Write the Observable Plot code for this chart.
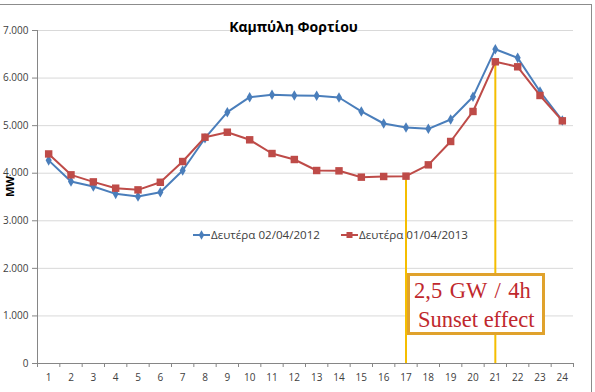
<!DOCTYPE html>
<html>
<head>
<meta charset="utf-8">
<script src="https://cdn.jsdelivr.net/npm/d3@7"></script>
<script src="https://cdn.jsdelivr.net/npm/@observablehq/plot@0.6"></script>
<style>
  html, body { margin: 0; padding: 0; background: white; }
  #wrap { position: relative; width: 595px; height: 392px; overflow: hidden; font-family: "Open Sans", sans-serif; }
  #frame { position: absolute; left: -10px; top: 4px; width: 602px; height: 400px; border: 1.5px solid #8c8c8c; box-sizing: border-box; pointer-events: none; }
  #legend { position: absolute; top: 227px; left: 193px; font-size: 11.6px; color: #404040; white-space: nowrap; display: flex; align-items: center; }
  #legend .item { display: flex; align-items: center; }
  #legend svg { display: block; }
  #note { position: absolute; left: 407px; top: 273px; width: 138px; height: 62px; box-sizing: border-box; border: 3px solid #E0A22C; background: white; font-family: "Liberation Serif", serif; font-size: 22.5px; color: #C0282D; line-height: 29px; }
</style>
</head>
<body>
<div id="wrap"></div>
<script>
const hours = [1,2,3,4,5,6,7,8,9,10,11,12,13,14,15,16,17,18,19,20,21,22,23,24];
const load2012 = [4270,3826,3720,3566,3510,3600,4057,4736,5283,5598,5648,5634,5627,5592,5298,5045,4961,4933,5129,5606,6607,6425,5718,5108];
const load2013 = [4405,3966,3818,3685,3650,3810,4246,4757,4862,4702,4414,4288,4057,4050,3917,3931,3938,4176,4667,5298,6342,6237,5634,5101];
const seriesNames = ["Δευτέρα 02/04/2012", "Δευτέρα 01/04/2013"];
const seriesColors = ["#4A7EBB", "#BE4B48"];
const yTicks = [0,1000,2000,3000,4000,5000,6000,7000];
const markedHours = [17, 21];
const titleText = "Καμπύλη Φορτίου";
const yLabel = "MW";
const noteLines = ["2,5 GW / 4h", "Sunset effect"];

const rows2012 = hours.map((h, i) => ({hour: h, value: load2012[i]}));
const rows2013 = hours.map((h, i) => ({hour: h, value: load2013[i]}));
const boundaries = hours.map(h => h - 0.5).concat([hours[hours.length - 1] + 0.5]);
const xDomain = [boundaries[0], boundaries[boundaries.length - 1]];
const fmt = d => d === 0 ? "0" : d3.format(",")(d).replace(",", ".");

const chart = Plot.plot({
  width: 595,
  height: 392,
  marginLeft: 37,
  marginRight: 22,
  marginTop: 30,
  marginBottom: 29,
  x: {type: "linear", domain: xDomain},
  y: {domain: [yTicks[0], yTicks[yTicks.length - 1]]},
  style: {fontFamily: "Open Sans", fontSize: "10px", color: "#404040", background: "white", overflow: "visible"},
  marks: [
    Plot.gridY(yTicks, {stroke: "#d9d9d9", strokeOpacity: 1}),
    Plot.axisY({ticks: yTicks, tickFormat: fmt, tickSize: 5, tickPadding: 4, label: null, stroke: "#868686", fill: "#404040"}),
    Plot.ruleX([xDomain[0]], {stroke: "#868686"}),
    Plot.axisX({ticks: boundaries, tickSize: 4, tickFormat: () => "", label: null, stroke: "#868686"}),
    Plot.axisX({ticks: hours, tickSize: 0, tickPadding: 10, label: null, fill: "#404040"}),
    Plot.ruleY([yTicks[0]], {stroke: "#868686"}),
    Plot.ruleX(markedHours, {x: d => d, y1: 0, y2: d => load2013[hours.indexOf(d)], stroke: "#F5BE00", strokeWidth: 2}),
    Plot.line(rows2012, {x: "hour", y: "value", stroke: seriesColors[0], strokeWidth: 2}),
    Plot.dot(rows2012, {x: "hour", y: "value", symbol: "diamond", r: 3.2, fill: seriesColors[0], stroke: "none"}),
    Plot.line(rows2013, {x: "hour", y: "value", stroke: seriesColors[1], strokeWidth: 2}),
    Plot.dot(rows2013, {x: "hour", y: "value", symbol: "square", r: 4.2, fill: seriesColors[1], stroke: "none"}),
    Plot.text([titleText], {frameAnchor: "top", dy: -8, dx: -12, fontSize: 14, fontWeight: "bold", fill: "#000"}),
    Plot.text([yLabel], {frameAnchor: "left", dx: -27, rotate: -90, fontSize: 11, fontWeight: "bold", fill: "#000"})
  ]
});

const wrap = document.getElementById("wrap");
wrap.appendChild(chart);

const frame = document.createElement("div");
frame.id = "frame";
wrap.appendChild(frame);

const legend = document.createElement("div");
legend.id = "legend";
seriesNames.forEach((name, i) => {
  const item = document.createElement("div");
  item.className = "item";
  if (i > 0) item.style.marginLeft = "21px";
  const icon = d3.create("svg").attr("width", 17).attr("height", 10);
  icon.append("line").attr("x1", 0).attr("x2", 17).attr("y1", 5).attr("y2", 5).attr("stroke", seriesColors[i]).attr("stroke-width", 2);
  if (i === 0) {
    icon.append("path").attr("d", d3.symbol(d3.symbolDiamond, 26)()).attr("transform", "translate(8.5,5)").attr("fill", seriesColors[i]);
  } else {
    icon.append("rect").attr("x", 5.5).attr("y", 2).attr("width", 6).attr("height", 6).attr("fill", seriesColors[i]);
  }
  item.appendChild(icon.node());
  const label = document.createElement("span");
  label.textContent = name;
  label.style.marginLeft = "1px";
  item.appendChild(label);
  legend.appendChild(item);
});
wrap.appendChild(legend);

const note = document.createElement("div");
note.id = "note";
noteLines.forEach((t, i) => {
  const line = document.createElement("div");
  line.textContent = t;
  line.style.paddingLeft = (i === 0 ? 4 : 8) + "px";
  line.style.wordSpacing = i === 0 ? "2px" : "0px";
  note.appendChild(line);
});
wrap.appendChild(note);
</script>
</body>
</html>
